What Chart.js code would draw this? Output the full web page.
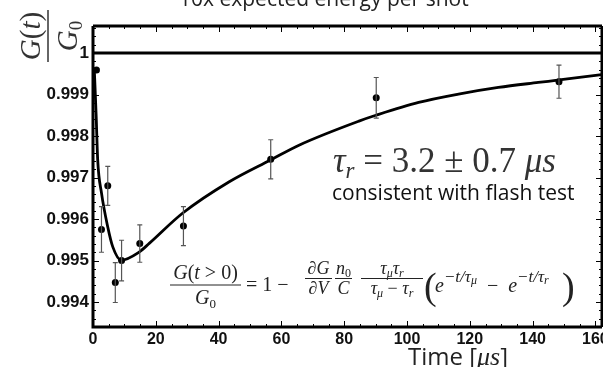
<!DOCTYPE html>
<html>
<head>
<meta charset="utf-8">
<script src="https://cdn.jsdelivr.net/npm/chart.js@4/dist/chart.umd.min.js"></script>
<style>
  html, body { margin: 0; padding: 0; background: #fff; overflow: hidden; }
  #wrap { position: relative; width: 606px; height: 367px; }
</style>
</head>
<body>
<div id="wrap"><canvas id="c"></canvas></div>
<script>
// fitted curve
const curveT = [0.4, 1.0, 1.5, 2.7, 4.7, 6.3, 9.0, 14.8, 18.0, 28.5, 43.4, 56.7, 65.6, 84.7, 90.1, 103.7, 116.4, 129.1, 141.8, 148.5, 162]
const curveG = [0.99963, 0.99850, 0.99742, 0.99663, 0.99581, 0.99533, 0.99501, 0.99521, 0.99542, 0.99614, 0.99690, 0.99743, 0.99778, 0.99836, 0.99850, 0.99881, 0.99901, 0.99917, 0.99929, 0.99935, 0.99948]

// measured points with error bars
const pointT = [1.1, 2.7, 4.7, 7.1, 9.1, 14.9, 28.8, 56.6, 90.2, 148.4]
const pointG = [0.99959, 0.99575, 0.99680, 0.99447, 0.99500, 0.99541, 0.99583, 0.99744, 0.99892, 0.99931]
const pointErr = [0, 0.00055, 0.00047, 0.00048, 0.00049, 0.00045, 0.00047, 0.00047, 0.00049, 0.00040]

const refLevel = 1
const xTicks = [0, 20, 40, 60, 80, 100, 120, 140, 160]
const yTicks = [0.994, 0.995, 0.996, 0.997, 0.998, 0.999, 1]
const xMin = 0, xMax = 162.1
const yMin = 0.9934, yMax = 1.00065

const SERIF = '"Liberation Serif", "DejaVu Serif", serif'

function run(ctx, parts, x, y, draw) {
  let cx = x
  for (const p of parts) {
    ctx.font = p.f || ((p.i ? "italic " : "") + p.s + "px " + SERIF)
    if (draw) ctx.fillText(p.t, cx, y + (p.dy || 0))
    cx += ctx.measureText(p.t).width
  }
  return cx - x
}

function runCentered(ctx, parts, cx, y) {
  const w = run(ctx, parts, 0, 0, false)
  run(ctx, parts, cx - w / 2, y, true)
}

function frac(ctx, num, den, x0, x1, barY, numY, denY) {
  const cx = (x0 + x1) / 2
  runCentered(ctx, num, cx, numY)
  runCentered(ctx, den, cx, denY)
  ctx.beginPath()
  ctx.lineWidth = 1
  ctx.moveTo(x0, barY)
  ctx.lineTo(x1, barY)
  ctx.stroke()
}

const errorBars = {
  id: "errorBars",
  afterDatasetsDraw(chart) {
    const { ctx, scales: { x, y } } = chart
    ctx.save()
    ctx.strokeStyle = "#555"
    ctx.lineWidth = 1.2
    pointT.forEach((t, i) => {
      if (!pointErr[i]) return
      const px = x.getPixelForValue(t)
      const top = y.getPixelForValue(pointG[i] + pointErr[i])
      const bot = y.getPixelForValue(pointG[i] - pointErr[i])
      ctx.beginPath()
      ctx.moveTo(px, top); ctx.lineTo(px, bot)
      ctx.moveTo(px - 2.5, top); ctx.lineTo(px + 2.5, top)
      ctx.moveTo(px - 2.5, bot); ctx.lineTo(px + 2.5, bot)
      ctx.stroke()
    })
    ctx.restore()
  }
}

const frameAndText = {
  id: "frameAndText",
  afterDraw(chart) {
    const { ctx, chartArea: a, scales: { x, y } } = chart
    ctx.save()

    // inward ticks, minor and major
    ctx.strokeStyle = "#000"
    ctx.lineWidth = 1
    ctx.beginPath()
    for (let v = 0; v <= xMax; v += 5) {
      const px = Math.round(x.getPixelForValue(v)) + 0.5
      const len = v % 20 === 0 ? 6 : 3
      ctx.moveTo(px, a.bottom); ctx.lineTo(px, a.bottom - len)
      ctx.moveTo(px, a.top); ctx.lineTo(px, a.top + len)
    }
    for (let k = 0; k <= 40; k++) {
      const v = 0.9934 + k * 0.0002
      if (v > yMax) break
      const py = Math.round(y.getPixelForValue(v)) + 0.5
      const major = Math.abs(v * 1000 - Math.round(v * 1000)) < 1e-6
      const len = major ? 6 : 3
      ctx.moveTo(a.left, py); ctx.lineTo(a.left + len, py)
      ctx.moveTo(a.right, py); ctx.lineTo(a.right - len, py)
    }
    ctx.stroke()

    // frame
    ctx.lineWidth = 3
    ctx.beginPath()
    ctx.moveTo(a.left, a.top); ctx.lineTo(a.right, a.top)
    ctx.moveTo(a.left, a.top); ctx.lineTo(a.left, a.bottom)
    ctx.moveTo(a.left - 1.5, a.bottom); ctx.lineTo(a.right, a.bottom)
    ctx.moveTo(a.right, a.top); ctx.lineTo(a.right, a.bottom)
    ctx.stroke()

    // title (cut at the top edge in the reference)
    ctx.fillStyle = "#222"
    ctx.font = '21px "Open Sans", sans-serif'
    ctx.textBaseline = "alphabetic"
    ctx.fillText("10x expected energy per shot", 179, 6)

    // x title, cut at the bottom edge
    ctx.fillStyle = "#222"
    run(ctx, [
      { t: "Time [", f: '24px "Open Sans", sans-serif' },
      { t: "μs", f: 'italic 26px ' + SERIF },
      { t: "]", f: '24px "Open Sans", sans-serif' }
    ], 408, 365, true)

    // y title G(t)/G0, rotated
    ctx.save()
    ctx.translate(48, 36)
    ctx.rotate(-Math.PI / 2)
    ctx.fillStyle = "#333"
    ctx.strokeStyle = "#333"
    runCentered(ctx, [{ t: "G", i: 1, s: 29 }, { t: "(", s: 29 }, { t: "t", i: 1, s: 29 }, { t: ")", s: 29 }], 0, -8)
    runCentered(ctx, [{ t: "G", i: 1, s: 29 }, { t: "0", s: 19, dy: 5 }], 0, 29)
    ctx.beginPath()
    ctx.lineWidth = 1.5
    ctx.moveTo(-26, 0); ctx.lineTo(26, 0)
    ctx.stroke()
    ctx.restore()

    // tau_r annotation
    ctx.fillStyle = "#333"
    run(ctx, [{ t: "τ", i: 1, s: 35 }, { t: "r", i: 1, s: 23, dy: 6 }, { t: " = 3.2 ± 0.7 ", s: 35 }, { t: "μs", i: 1, s: 35 }], 333, 172, true)
    ctx.fillStyle = "#111"
    ctx.font = '21px "Open Sans", sans-serif'
    ctx.fillText("consistent with flash test", 332, 200)

    // formula
    ctx.fillStyle = "#222"
    ctx.strokeStyle = "#222"
    frac(ctx,
      [{ t: "G", i: 1, s: 20 }, { t: "(", s: 20 }, { t: "t", i: 1, s: 20 }, { t: " > 0)", s: 20 }],
      [{ t: "G", i: 1, s: 20 }, { t: "0", s: 13, dy: 4 }],
      170, 241, 285, 279, 304)
    run(ctx, [{ t: "= 1 −", s: 20 }], 246, 291, true)
    const sub = (t) => ({ t, i: 1, s: 12, dy: 3 })
    frac(ctx, [{ t: "∂", s: 18 }, { t: "G", i: 1, s: 18 }], [{ t: "∂", s: 18 }, { t: "V", i: 1, s: 18 }], 305, 332, 278.5, 274, 294)
    frac(ctx, [{ t: "n", i: 1, s: 18 }, { t: "0", s: 12, dy: 3 }], [{ t: "C", i: 1, s: 18 }], 335, 352, 278.5, 274, 294)
    frac(ctx,
      [{ t: "τ", i: 1, s: 18 }, sub("μ"), { t: "τ", i: 1, s: 18 }, sub("r")],
      [{ t: "τ", i: 1, s: 18 }, sub("μ"), { t: " − ", s: 18 }, { t: "τ", i: 1, s: 18 }, sub("r")],
      361, 423, 278.5, 274, 294)
    run(ctx, [{ t: "(", s: 38 }], 424, 299, true)
    run(ctx, [
      { t: "e", i: 1, s: 20 }, { t: "−t/τ", i: 1, s: 17, dy: -10 }, { t: "μ", i: 1, s: 12, dy: -8 },
      { t: "  −  ", s: 20 },
      { t: "e", i: 1, s: 20 }, { t: "−t/τ", i: 1, s: 17, dy: -10 }, { t: "r", i: 1, s: 12, dy: -8 }
    ], 435, 292, true)
    run(ctx, [{ t: ")", s: 38 }], 562, 299, true)

    ctx.restore()
  }
}

new Chart(document.getElementById("c"), {
  type: "scatter",
  data: {
    datasets: [
      {
        data: [{ x: xMin, y: refLevel }, { x: xMax, y: refLevel }],
        showLine: true,
        borderColor: "#000",
        borderWidth: 3,
        pointRadius: 0
      },
      {
        data: curveT.map((t, i) => ({ x: t, y: curveG[i] })),
        showLine: true,
        borderColor: "#000",
        borderWidth: 2.8,
        pointRadius: 0,
        cubicInterpolationMode: "monotone"
      },
      {
        data: pointT.map((t, i) => ({ x: t, y: pointG[i] })),
        pointRadius: 3.5,
        pointBackgroundColor: "#000",
        pointBorderWidth: 0
      }
    ]
  },
  options: {
    responsive: true,
    maintainAspectRatio: false,
    animation: false,
    layout: { padding: { top: 26, right: 2, left: 0, bottom: 0 } },
    plugins: {
      legend: { display: false },
      tooltip: { enabled: false }
    },
    scales: {
      x: {
        type: "linear",
        min: xMin,
        max: xMax,
        grid: { display: false, drawTicks: false },
        border: { display: false },
        afterBuildTicks(s) { s.ticks = xTicks.map(v => ({ value: v })) },
        afterFit(s) { s.height = 40; s.paddingLeft = 0; s.paddingRight = 0 },
        ticks: {
          color: "#111",
          font: { family: '"Liberation Sans", Arial, sans-serif', size: 16, weight: "bold" },
          padding: 3,
          maxRotation: 0,
          autoSkip: false
        }
      },
      y: {
        type: "linear",
        min: yMin,
        max: yMax,
        grid: { display: false, drawTicks: false },
        border: { display: false },
        afterBuildTicks(s) { s.ticks = yTicks.map(v => ({ value: v })) },
        afterFit(s) { s.width = 93 },
        ticks: {
          color: "#111",
          font: { family: '"Liberation Sans", Arial, sans-serif', size: 17, weight: "bold" },
          padding: 4,
          autoSkip: false,
          callback: v => (v === 1 ? "1" : v.toFixed(3))
        }
      }
    }
  },
  plugins: [errorBars, frameAndText]
})
</script>
</body>
</html>
